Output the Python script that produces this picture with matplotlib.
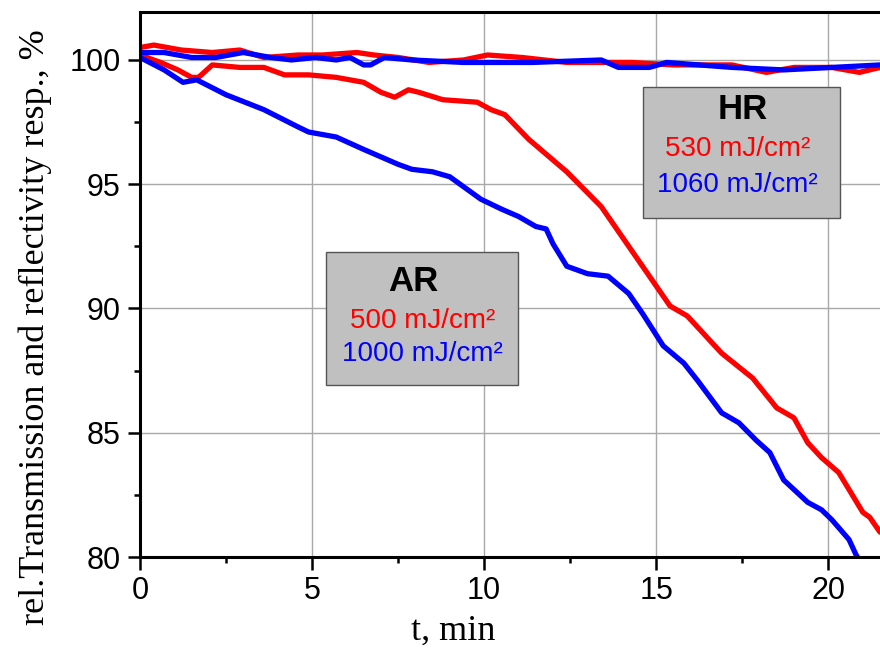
"""
Relative transmission / reflectivity response vs. time (AR and HR coatings)
"""
import matplotlib
matplotlib.use('Agg')
import matplotlib.pyplot as plt
from matplotlib.patches import Rectangle
from matplotlib.ticker import MultipleLocator

# --- data ---
t_ar_500 = [0, 0.6, 1.1, 1.5, 1.7, 2.1, 2.9, 3.6, 4.2, 4.9, 5.7, 6.5, 7.0, 7.4, 7.8,
            8.1, 8.8, 9.8, 10.2, 10.6, 11.3, 12.4, 13.4, 14.2, 14.8, 15.4, 15.9,
            16.9, 17.8, 18.5, 19.0, 19.4, 19.8, 20.3, 21.0, 21.2, 21.5]
v_ar_500 = [100.2, 99.9, 99.6, 99.3, 99.3, 99.8, 99.7, 99.7, 99.4, 99.4, 99.3, 99.1,
            98.7, 98.5, 98.8, 98.7, 98.4, 98.3, 98.0, 97.8, 96.8, 95.5, 94.1, 92.5,
            91.3, 90.1, 89.7, 88.2, 87.2, 86.0, 85.6, 84.6, 84.0, 83.4, 81.8, 81.6, 81.0]

t_ar_1000 = [0, 0.7, 1.25, 1.65, 2.5, 3.6, 4.6, 4.9, 5.7, 6.5, 7.5, 7.9, 8.5, 9.0,
             9.9, 10.5, 11.0, 11.5, 11.8, 12.0, 12.4, 13.0, 13.6, 14.2, 14.6, 15.2,
             15.8, 16.2, 16.9, 17.4, 17.9, 18.3, 18.7, 19.4, 19.8, 20.1, 20.6, 20.8, 21.1]
v_ar_1000 = [100.1, 99.6, 99.1, 99.2, 98.6, 98.0, 97.3, 97.1, 96.9, 96.4, 95.8, 95.6,
             95.5, 95.3, 94.4, 94.0, 93.7, 93.3, 93.2, 92.6, 91.7, 91.4, 91.3, 90.6,
             89.8, 88.5, 87.8, 87.1, 85.8, 85.4, 84.7, 84.2, 83.1, 82.2, 81.9, 81.5,
             80.7, 80.1, 79.4]

t_hr_530 = [0, 0.4, 1.2, 2.1, 2.9, 3.6, 4.6, 5.3, 6.3, 6.8, 7.5, 8.4, 9.4, 10.1,
            11.1, 12.4, 14.3, 15.5, 17.2, 18.2, 19.0, 20.1, 20.9, 21.5]
v_hr_530 = [100.5, 100.6, 100.4, 100.3, 100.4, 100.1, 100.2, 100.2, 100.3, 100.2,
            100.1, 99.9, 100.0, 100.2, 100.1, 99.9, 99.9, 99.8, 99.8, 99.5, 99.7,
            99.7, 99.5, 99.7]

t_hr_1060 = [0, 0.7, 1.5, 2.2, 3.0, 3.8, 4.4, 5.1, 5.7, 6.1, 6.5, 6.7, 7.1, 7.9,
             9.4, 10.4, 11.4, 13.4, 13.9, 14.8, 15.3, 17.2, 18.7, 20.1, 21.5]
v_hr_1060 = [100.3, 100.3, 100.1, 100.1, 100.3, 100.1, 100.0, 100.1, 100.0, 100.1,
             99.8, 99.8, 100.1, 100.0, 99.9, 99.9, 99.9, 100.0, 99.7, 99.7, 99.9,
             99.7, 99.6, 99.7, 99.8]

x_ticks = [0, 5, 10, 15, 20]
y_ticks = [80, 85, 90, 95, 100]

RED = '#ff0000'
BLUE = '#0000ff'
BOX_FACE = '#c0c0c0'

fig = plt.figure(figsize=(8.8, 6.51), dpi=100)
ax = fig.add_axes([140 / 880, 1 - 557 / 651, 740 / 880, 545 / 651])

# curves
for t, v, c in [(t_ar_500, v_ar_500, RED), (t_ar_1000, v_ar_1000, BLUE),
                (t_hr_530, v_hr_530, RED), (t_hr_1060, v_hr_1060, BLUE)]:
    ax.plot(t, v, color=c, lw=3.8, solid_joinstyle='round', solid_capstyle='round')

ax.set_xlim(0, 21.5)
ax.set_ylim(80, 101.93)

# ticks / grid
ax.set_xticks(x_ticks)
ax.set_yticks(y_ticks)
ax.xaxis.set_minor_locator(MultipleLocator(2.5))
ax.yaxis.set_minor_locator(MultipleLocator(2.5))
ax.tick_params(which='major', direction='out', length=9, width=1.8,
               labelsize=22, pad=5, top=False, right=False)
ax.tick_params(which='minor', direction='out', length=4.5, width=1.8,
               top=False, right=False)
for lab in ax.get_xticklabels() + ax.get_yticklabels():
    lab.set_fontfamily('Liberation Sans')
ax.grid(True, which='major', color='#a8a8a8', lw=1.0)
ax.set_axisbelow(True)

for side in ['left', 'bottom', 'top']:
    ax.spines[side].set_linewidth(2.2)
ax.spines['right'].set_visible(False)

# axis labels
ax.set_xlabel('t, min', family='Liberation Serif', fontsize=26, va='center')
ax.xaxis.set_label_coords(0.423, -0.136)
ax.set_ylabel('rel.Transmission and reflectivity resp., %',
              family='Liberation Serif', fontsize=26, va='center')
ax.yaxis.set_label_coords(-0.142, 0.422)

# annotation boxes
ax.add_patch(Rectangle((14.6, 93.64), 5.75, 5.27, facecolor=BOX_FACE,
                       edgecolor='#555555', lw=1.0, zorder=5))
ax.text(17.5, 98.0, 'HR', ha='center', va='center', fontsize=25,
        fontweight='bold', family='Liberation Sans', zorder=6)
ax.text(17.35, 96.4, '530 mJ/cm²', ha='center', va='center', fontsize=20,
        color=RED, family='Liberation Sans', zorder=6)
ax.text(17.35, 94.95, '1060 mJ/cm²', ha='center', va='center', fontsize=20,
        color=BLUE, family='Liberation Sans', zorder=6)

ax.add_patch(Rectangle((5.4, 86.92), 5.58, 5.35, facecolor=BOX_FACE,
                       edgecolor='#555555', lw=1.0, zorder=5))
ax.text(7.95, 91.1, 'AR', ha='center', va='center', fontsize=25,
        fontweight='bold', family='Liberation Sans', zorder=6)
ax.text(8.2, 89.5, '500 mJ/cm²', ha='center', va='center', fontsize=20,
        color=RED, family='Liberation Sans', zorder=6)
ax.text(8.2, 88.15, '1000 mJ/cm²', ha='center', va='center', fontsize=20,
        color=BLUE, family='Liberation Sans', zorder=6)

fig.savefig('out.png', dpi=100)
